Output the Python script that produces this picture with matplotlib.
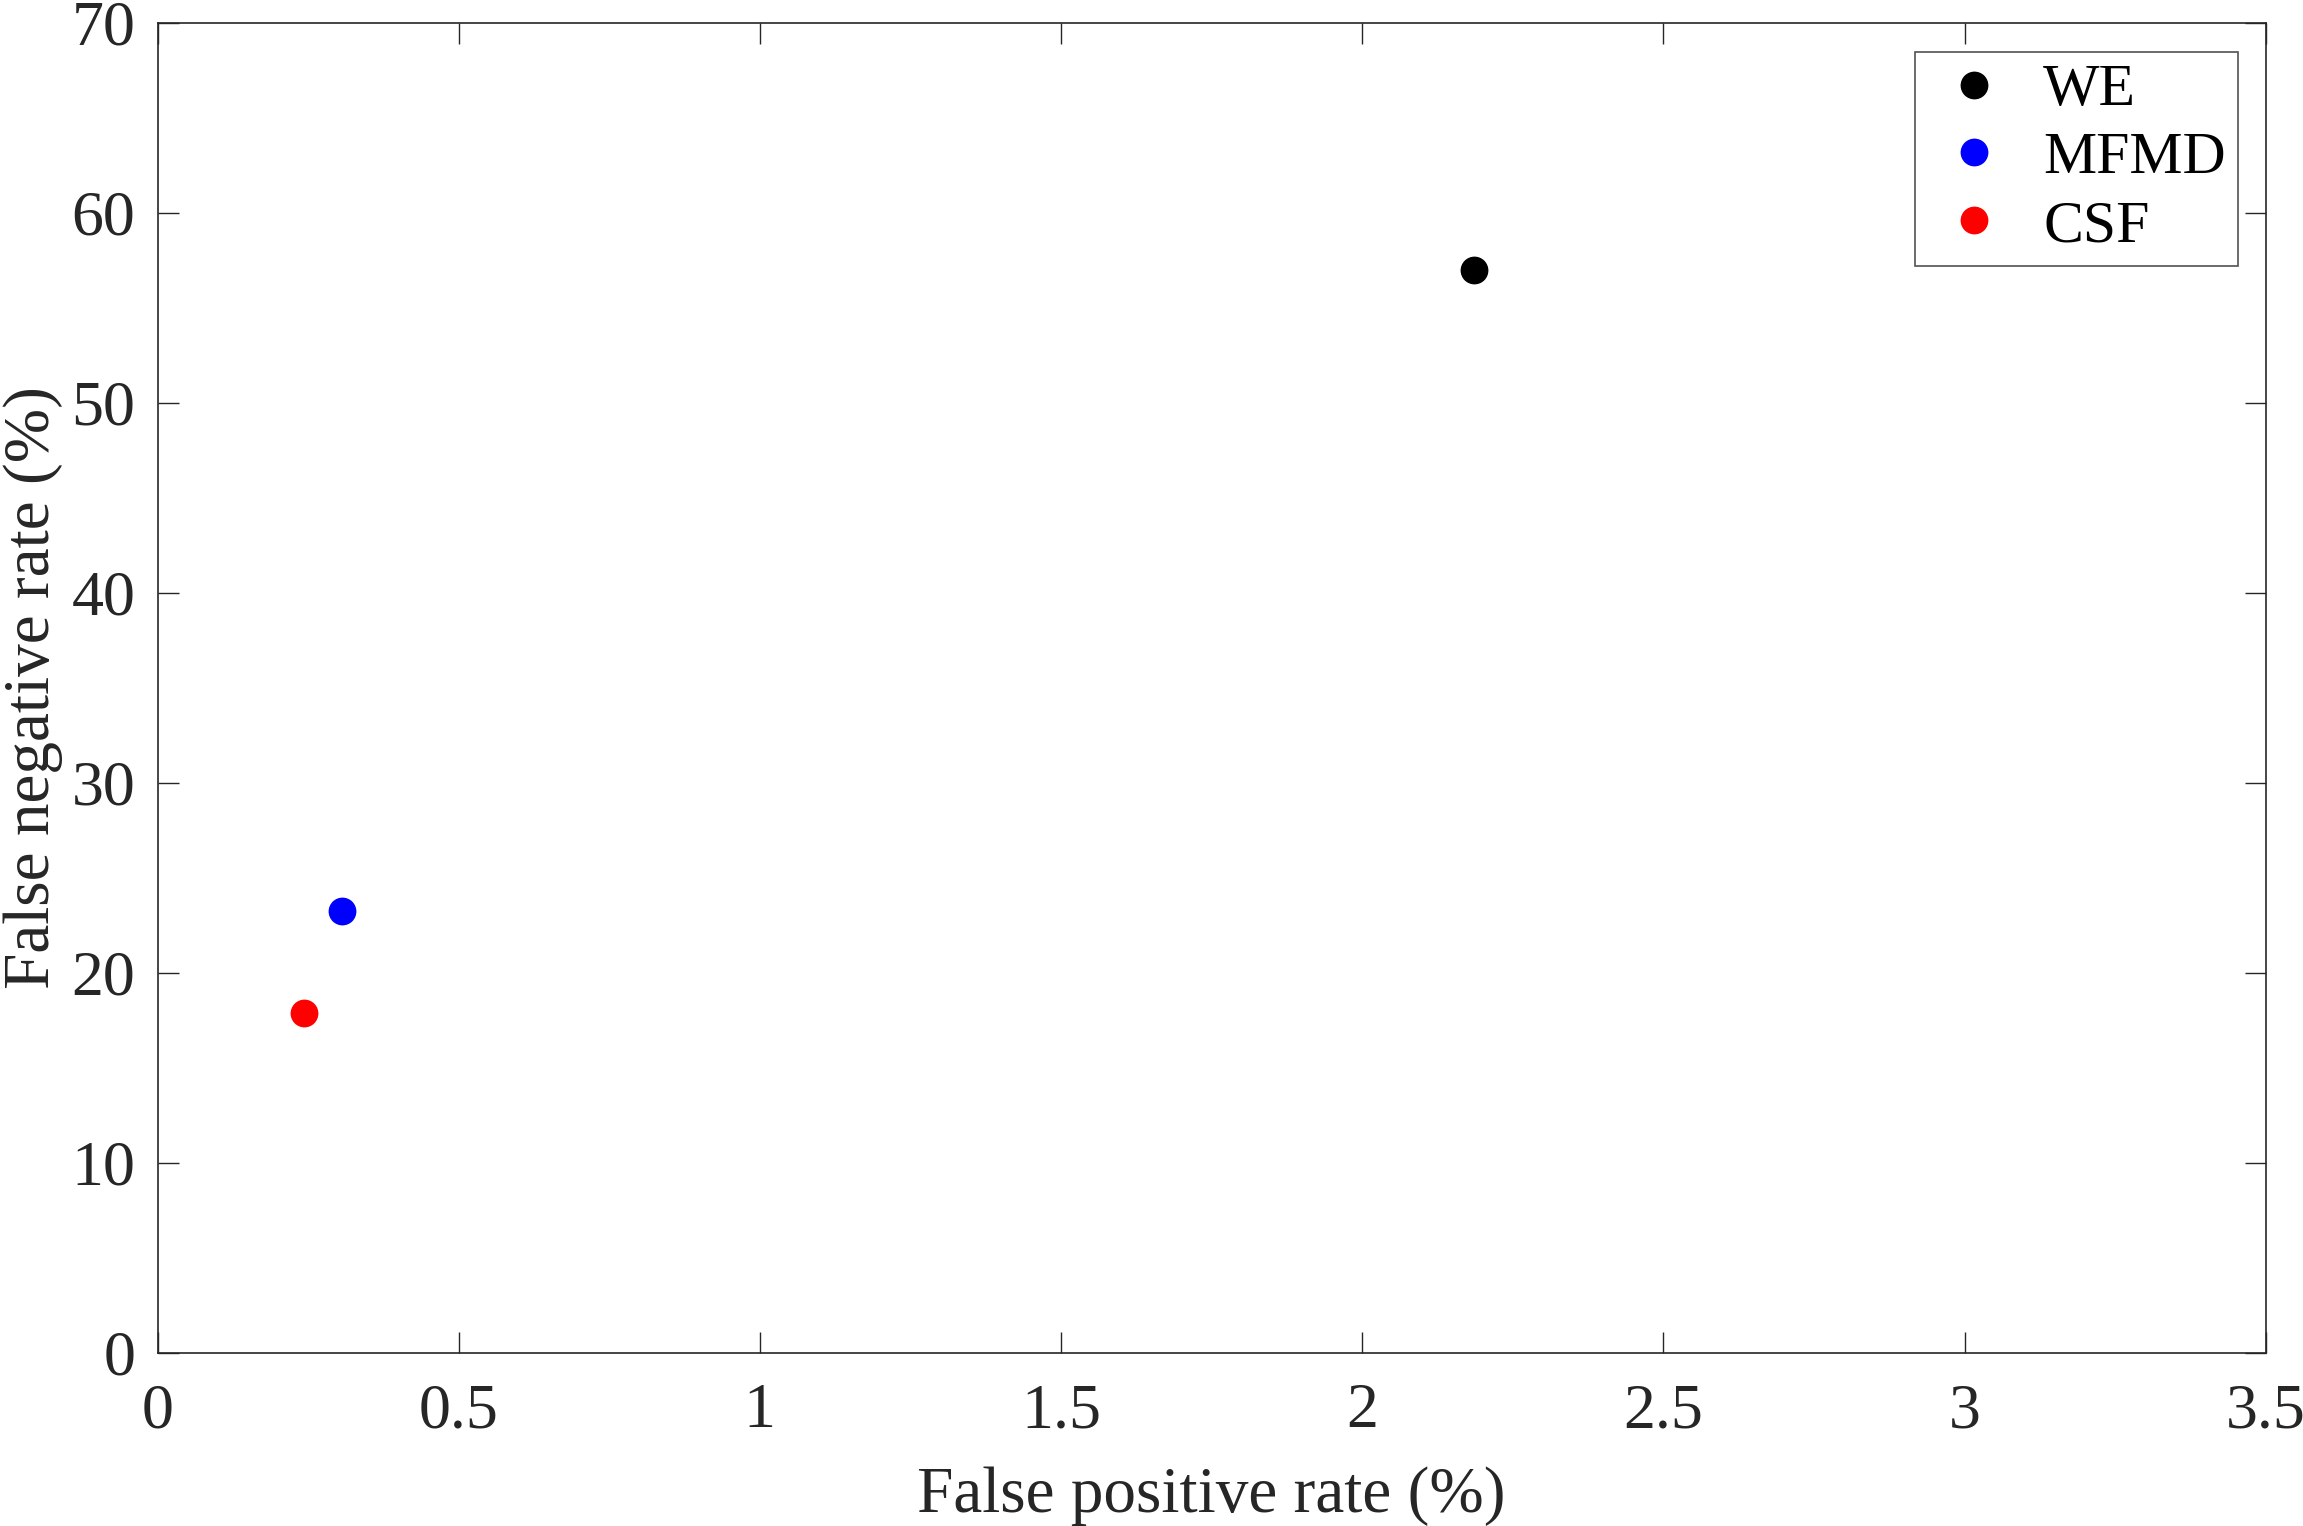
import matplotlib
matplotlib.use("Agg")
import matplotlib.pyplot as plt

methods = ["WE", "MFMD", "CSF"]
fpr = [2.186, 0.306, 0.243]
fnr = [56.98, 23.26, 17.86]
colors = ["#000000", "#0000ff", "#ff0000"]
xticks = [0, 0.5, 1, 1.5, 2, 2.5, 3, 3.5]
xticklabels = ["0", "0.5", "1", "1.5", "2", "2.5", "3", "3.5"]
yticks = [0, 10, 20, 30, 40, 50, 60, 70]

plt.rcParams['font.family'] = ['Liberation Serif', 'DejaVu Serif']
plt.rcParams['mathtext.fontset'] = 'stix'

fig = plt.figure(figsize=(23.03, 15.26), dpi=100)
ax = fig.add_axes([157.5/2303, 1-1352.7/1526, (2265.7-157.5)/2303, (1352.7-22.7)/1526])

for m, x, y, c in zip(methods, fpr, fnr, colors):
    ax.plot([x], [y], linestyle='none', marker='o', markersize=19, color=c, label=m)

ax.set_xlim(0, 3.5)
ax.set_ylim(0, 70)
ax.set_xticks(xticks)
ax.set_xticklabels(xticklabels)
ax.set_yticks(yticks)
ax.tick_params(direction='in', length=15, width=1.0, top=True, right=True,
               labelsize=46, colors='#262626', labelcolor='#262626')
ax.tick_params(axis='x', pad=22)
ax.tick_params(axis='y', pad=16)
for s in ax.spines.values():
    s.set_linewidth(1.2)
    s.set_color('#262626')

ax.set_xlabel("False positive rate (%)", fontsize=47, color='#262626', labelpad=18)
ax.set_ylabel("False negative rate (%)", fontsize=47, color='#262626', labelpad=6)

leg = ax.legend(loc='upper right', bbox_to_anchor=(1 - 28/2108, 1 - 29/1330),
                fontsize=43, frameon=True, fancybox=False, edgecolor='#262626',
                handletextpad=0.35, borderpad=0.2, labelspacing=0.22, handlelength=1.6,
                borderaxespad=0)
leg.get_frame().set_linewidth(1.2)

fig.savefig("out.png", dpi=100, facecolor='white')
